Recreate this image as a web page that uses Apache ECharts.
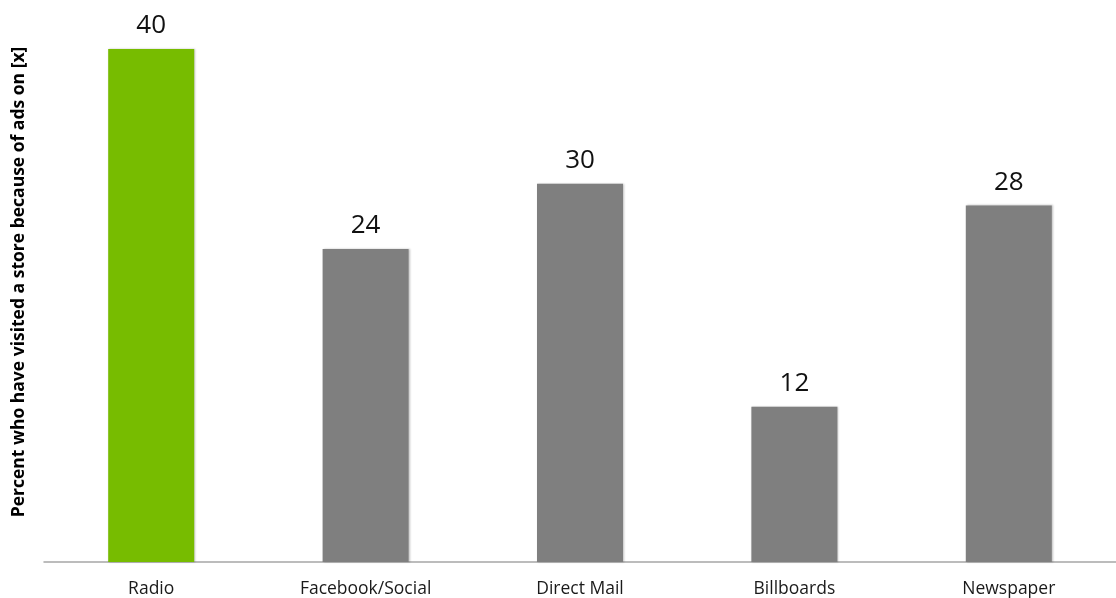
<!DOCTYPE html>
<html>
<head>
<meta charset="utf-8">
<script src="https://cdn.jsdelivr.net/npm/echarts@6/dist/echarts.min.js"></script>
<style>html,body{margin:0;padding:0;background:#fff}#c{width:1116px;height:598px}</style>
</head>
<body>
<div id="c"></div>
<script>
const categories = ["Radio", "Facebook/Social", "Direct Mail", "Billboards", "Newspaper"];
const values = [40, 24.4, 29.5, 12.1, 27.8];
const barColors = ["#77bc00", "#7f7f7f", "#7f7f7f", "#7f7f7f", "#7f7f7f"];
const yTitle = "Percent who have visited a store because of ads on [x]";

const chart = echarts.init(document.getElementById('c'), null, {renderer: 'canvas'});
chart.setOption({
  animation: false,
  backgroundColor: '#fff',
  grid: {left: 44, right: 0, top: 49, bottom: 35.5, containLabel: false},
  xAxis: {
    type: 'category',
    data: categories,
    axisTick: {show: false},
    axisLine: {lineStyle: {color: '#a6a6a6', width: 1.5}},
    axisLabel: {color: '#1a1a1a', fontFamily: 'Open Sans', fontSize: 17.5, margin: 18}
  },
  yAxis: {
    type: 'value', min: 0, max: 40,
    show: false,
    splitLine: {show: false}
  },
  graphic: [{
    type: 'text',
    x: 19, y: 282,
    rotation: Math.PI / 2,
    style: {
      text: yTitle,
      fill: '#000',
      font: 'bold 17.5px "Open Sans"',
      textAlign: 'center',
      textVerticalAlign: 'middle'
    }
  }],
  series: [{
    type: 'bar',
    barWidth: 86,
    data: values.map((v, i) => ({value: v, itemStyle: {color: barColors[i]}})),
    itemStyle: {shadowBlur: 2, shadowColor: 'rgba(0,0,0,0.25)', shadowOffsetX: 1, shadowOffsetY: 0},
    label: {
      show: true, position: 'top', distance: 10,
      color: '#111', fontFamily: 'Open Sans', fontSize: 26,
      formatter: p => Math.round(p.value)
    }
  }]
});
</script>
</body>
</html>
